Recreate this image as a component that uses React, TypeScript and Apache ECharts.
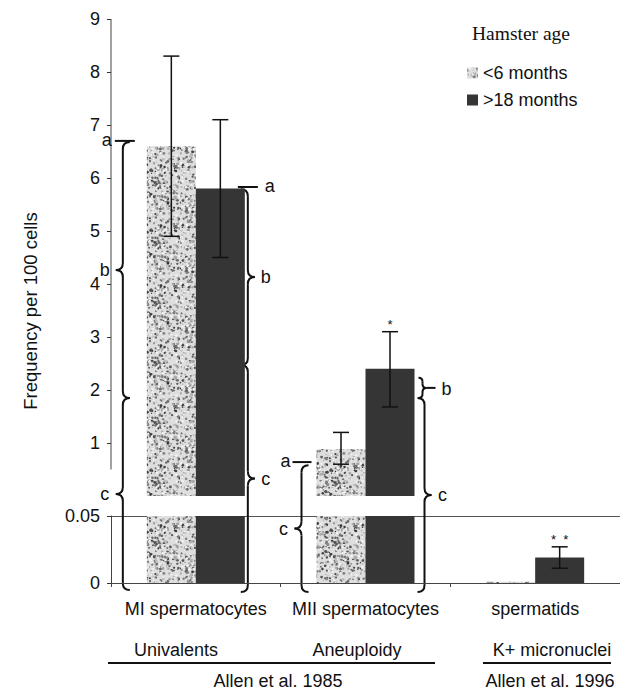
import React, { useEffect, useRef } from "react";
import * as echarts from "echarts";

// ---------- data ----------
const categories = ["MI spermatocytes", "MII spermatocytes", "spermatids"];
const groupLabels = ["Univalents", "Aneuploidy", "K+ micronuclei"];
const studies = ["Allen et al. 1985", "Allen et al. 1996"];
const seriesNames = ["<6 months", ">18 months"];
const youngMean = [6.6, 0.88, 0.001];
const oldMean = [5.8, 2.4, 0.019];
const youngErr: (number[] | null)[] = [[4.9, 8.3], [0.6, 1.2], null];
const oldErr: (number[] | null)[] = [[4.5, 7.1], [1.68, 3.1], [0.011, 0.027]];
const oldMarks = ["", "*", "*  *"];
const upperTicks = [1, 2, 3, 4, 5, 6, 7, 8, 9];
const BREAK = 0.05;

// brace annotations: [gridIndex, value] anchors
const braces = [
  { cat: 0, dx: -73, from: [0, 6.68], to: [0, 1.85], dir: -1, label: "b" },
  { cat: 0, dx: -73, from: [0, 1.85], to: [1, -0.0052], dir: -1, label: "c" },
  { cat: 0, dx: 52, from: [0, 5.79], to: [0, 2.47], dir: 1, label: "b" },
  { cat: 0, dx: 52, from: [0, 2.47], to: [1, -0.0067], dir: 1, label: "c" },
  { cat: 1, dx: -64, from: [0, 0.58], to: [1, -0.0067], dir: -1, label: "c" },
  { cat: 1, dx: 59, from: [0, 1.85], to: [1, -0.0067], dir: 1, label: "c" },
];
const aMarks = [
  { cat: 0, dx1: -81, dx2: -61, at: [0, 6.7], tdx: -89 },
  { cat: 0, dx1: 42, dx2: 62, at: [0, 5.83], tdx: 74 },
  { cat: 1, dx1: -73, dx2: -54, at: [0, 0.64], tdx: -80 },
];
const smallBracket = { cat: 1, dx: 57, from: [0, 2.23], to: [0, 1.85], tail: 13, tdx: 81, label: "b" };

const FONT = '"Liberation Sans", Arial, sans-serif';
const FS = 18;
const BAR_W = 49;
const GRID_LEFT = 111;

function makeSpeckle(): HTMLCanvasElement {
  const c = document.createElement("canvas");
  c.width = 60;
  c.height = 60;
  const g = c.getContext("2d")!;
  g.fillStyle = "#dedede";
  g.fillRect(0, 0, 60, 60);
  let s = 12345;
  const rnd = () => {
    s = (s * 1103515245 + 12345) & 0x7fffffff;
    return s / 0x7fffffff;
  };
  for (let i = 0; i < 430; i++) {
    const x = rnd() * 60, y = rnd() * 60, r = 0.45 + rnd() * 1.05;
    const sh = Math.floor(55 + rnd() * 140);
    g.fillStyle = `rgb(${sh},${sh},${sh})`;
    g.beginPath();
    g.arc(x, y, r, 0, Math.PI * 2);
    g.fill();
  }
  for (let i = 0; i < 90; i++) {
    const x = rnd() * 60, y = rnd() * 60, r = 0.5 + rnd() * 0.9;
    g.fillStyle = "#f4f4f4";
    g.beginPath();
    g.arc(x, y, r, 0, Math.PI * 2);
    g.fill();
  }
  return c;
}

function braceEls(x: number, yT: number, yB: number, dir: number, r: number, tail?: number) {
  const st = { stroke: "#111", lineWidth: 2, fill: "none" };
  const e = x - dir * r;
  const ym = (yT + yB) / 2;
  const t = x + dir * r;
  const els: any[] = [
    { type: "bezierCurve", shape: { x1: e, y1: yT, cpx1: x, cpy1: yT, x2: x, y2: yT + r }, style: st },
    { type: "line", shape: { x1: x, y1: yT + r, x2: x, y2: ym - r }, style: st },
    { type: "bezierCurve", shape: { x1: x, y1: ym - r, cpx1: x, cpy1: ym, x2: t, y2: ym }, style: st },
    { type: "bezierCurve", shape: { x1: t, y1: ym, cpx1: x, cpy1: ym, x2: x, y2: ym + r }, style: st },
    { type: "line", shape: { x1: x, y1: ym + r, x2: x, y2: yB - r }, style: st },
    { type: "bezierCurve", shape: { x1: x, y1: yB - r, cpx1: x, cpy1: yB, x2: e, y2: yB }, style: st },
  ];
  if (tail) els.push({ type: "line", shape: { x1: t, y1: ym, x2: t + dir * tail, y2: ym }, style: st });
  return { els, tipX: t, ym };
}

const txt = (text: string, x: number, y: number, extra: any = {}) => ({
  type: "text",
  x,
  y,
  silent: true,
  style: { text, fontSize: FS, fontFamily: FONT, fill: "#111", align: "center", verticalAlign: "middle", ...extra },
});

export default function App() {
  const ref = useRef<HTMLDivElement>(null);
  useEffect(() => {
    document.body.style.margin = "0";
    const chart = echarts.init(ref.current!, null, { renderer: "svg" });
    const speckle = makeSpeckle();
    const lightColor: any = { image: speckle, repeat: "repeat" };
    const darkColor = "#353535";

    const errRender = (side: number) => (params: any, api: any) => {
      const cat = api.value(0), lo = api.value(1), hi = api.value(2);
      const pHi = api.coord([cat, hi]);
      const pLo = api.coord([cat, lo]);
      const x = pHi[0] + (side * BAR_W) / 2;
      const cap = 8;
      const st = { stroke: "#111", lineWidth: 1.5 };
      const children: any[] = [
        { type: "line", shape: { x1: x, y1: pHi[1], x2: x, y2: pLo[1] }, style: st },
        { type: "line", shape: { x1: x - cap, y1: pHi[1], x2: x + cap, y2: pHi[1] }, style: st },
        { type: "line", shape: { x1: x - cap, y1: pLo[1], x2: x + cap, y2: pLo[1] }, style: st },
      ];
      const mark = side > 0 ? oldMarks[cat] : "";
      if (mark)
        children.push({
          type: "text",
          style: { text: mark, x, y: pHi[1] - 1, align: "center", verticalAlign: "bottom", fontSize: 13, fontFamily: FONT, fill: "#111" },
        });
      return { type: "group", children };
    };

    const errData = (errs: (number[] | null)[], upper: boolean) =>
      errs
        .map((e, i) => (e ? [i, e[0], e[1]] : null))
        .filter((d): d is number[] => !!d && (upper ? d[2] > BREAK : d[2] <= BREAK));

    const axisLabelStyle = { fontSize: FS, color: "#111", fontFamily: FONT };

    chart.setOption({
      animation: false,
      grid: [
        { left: GRID_LEFT, right: 0, top: 19, height: 477 },
        { left: GRID_LEFT, right: 0, top: 516, height: 67 },
      ],
      legend: {
        data: seriesNames,
        orient: "vertical",
        left: 467,
        top: 64,
        padding: 0,
        itemWidth: 11,
        itemHeight: 11,
        itemGap: 9,
        icon: "rect",
        selectedMode: false,
        textStyle: { fontSize: FS, color: "#111", fontFamily: FONT },
      },
      xAxis: [
        { gridIndex: 0, type: "category", data: categories, show: false },
        {
          gridIndex: 1,
          type: "category",
          data: categories,
          axisLine: { show: true, lineStyle: { color: "#444", width: 1 } },
          axisTick: { show: true, length: 4, lineStyle: { color: "#444" } },
          axisLabel: { ...axisLabelStyle, margin: 17, interval: 0 },
        },
      ],
      yAxis: [
        {
          gridIndex: 0,
          type: "value",
          min: 0,
          max: 9,
          interval: 1,
          axisLine: { show: false },
          axisTick: { show: true, length: 4, lineStyle: { color: "#333" }, customValues: upperTicks },
          axisLabel: {
            ...axisLabelStyle,
            margin: 11,
            customValues: upperTicks,
            formatter: (v: number) => (v === 0 ? "" : String(v)),
          },
          splitLine: { show: false },
        },
        {
          gridIndex: 1,
          type: "value",
          min: 0,
          max: BREAK,
          interval: BREAK,
          axisLine: { show: true, lineStyle: { color: "#444", width: 1 } },
          axisTick: { show: true, length: 4, lineStyle: { color: "#333" } },
          axisLabel: { ...axisLabelStyle, margin: 11, formatter: (v: number) => (v === 0 ? "0" : String(BREAK)) },
          splitLine: { show: true, lineStyle: { color: "#555", width: 1 } },
        },
      ],
      series: [
        {
          type: "bar", name: seriesNames[0], xAxisIndex: 0, yAxisIndex: 0, barWidth: BAR_W, barGap: "0%",
          data: youngMean.map((v) => (v > BREAK ? v : "-")), itemStyle: { color: lightColor },
        },
        {
          type: "bar", name: seriesNames[1], xAxisIndex: 0, yAxisIndex: 0, barWidth: BAR_W, barGap: "0%",
          data: oldMean.map((v) => (v > BREAK ? v : "-")), itemStyle: { color: darkColor },
        },
        {
          type: "bar", name: seriesNames[0], xAxisIndex: 1, yAxisIndex: 1, barWidth: BAR_W, barGap: "0%",
          data: youngMean, itemStyle: { color: lightColor }, clip: true,
        },
        {
          type: "bar", name: seriesNames[1], xAxisIndex: 1, yAxisIndex: 1, barWidth: BAR_W, barGap: "0%",
          data: oldMean, itemStyle: { color: darkColor }, clip: true,
        },
        { type: "custom", xAxisIndex: 0, yAxisIndex: 0, renderItem: errRender(-1), data: errData(youngErr, true), encode: { x: 0, y: [1, 2] }, z: 5, clip: false },
        { type: "custom", xAxisIndex: 0, yAxisIndex: 0, renderItem: errRender(1), data: errData(oldErr, true), encode: { x: 0, y: [1, 2] }, z: 5, clip: false },
        { type: "custom", xAxisIndex: 1, yAxisIndex: 1, renderItem: errRender(-1), data: errData(youngErr, false), encode: { x: 0, y: [1, 2] }, z: 5, clip: false },
        { type: "custom", xAxisIndex: 1, yAxisIndex: 1, renderItem: errRender(1), data: errData(oldErr, false), encode: { x: 0, y: [1, 2] }, z: 5, clip: false },
      ],
    });

    const P = (g: number, cat: number, v: number) => chart.convertToPixel({ gridIndex: g } as any, [cat, v]) as number[];
    const G: any[] = [];
    const line = (x1: number, y1: number, x2: number, y2: number, w = 1.5, c = "#111") =>
      G.push({ type: "line", silent: true, shape: { x1, y1, x2, y2 }, style: { stroke: c, lineWidth: w } });

    // upper y axis line (broken axis)
    line(GRID_LEFT, P(0, 0, 9)[1], GRID_LEFT, P(0, 0, 0.5)[1], 1, "#444");

    braces.forEach((b) => {
      const top = P(b.from[0], b.cat, b.from[1]);
      const bot = P(b.to[0], b.cat, b.to[1]);
      const x = top[0] + b.dx;
      const r = braceEls(x, top[1], bot[1], b.dir, 7);
      G.push(...r.els);
      G.push(txt(b.label, r.tipX + b.dir * 11, r.ym));
    });
    aMarks.forEach((a) => {
      const p = P(a.at[0], a.cat, a.at[1]);
      line(p[0] + a.dx1, p[1], p[0] + a.dx2, p[1], 2);
      G.push(txt("a", p[0] + a.tdx, p[1] - 1));
    });
    {
      const b = smallBracket;
      const top = P(b.from[0], b.cat, b.from[1]);
      const bot = P(b.to[0], b.cat, b.to[1]);
      const r = braceEls(top[0] + b.dx, top[1], bot[1], 1, 4, b.tail - 4);
      G.push(...r.els);
      G.push(txt(b.label, top[0] + b.tdx, r.ym + 1));
    }

    // static texts
    const yName: any = txt("Frequency per 100 cells", 30, 311, { fontSize: 18.5 });
    yName.rotation = Math.PI / 2;
    G.push(yName);
    G.push(txt("Hamster age", 521, 33, { fontFamily: '"Liberation Serif", "Times New Roman", serif', fontSize: 19.5 }));
    G.push(txt(groupLabels[0], 176, 650));
    G.push(txt(groupLabels[1], 357, 650));
    G.push(txt(groupLabels[2], 552, 650));
    line(108, 663, 435, 663, 1.8);
    line(483, 663, 611, 663, 1.8);
    G.push(txt(studies[0], 278, 681));
    G.push(txt(studies[1], 550, 681));

    chart.setOption({ graphic: G });
    return () => chart.dispose();
  }, []);
  return <div ref={ref} style={{ width: 620, height: 692 }} />;
}
